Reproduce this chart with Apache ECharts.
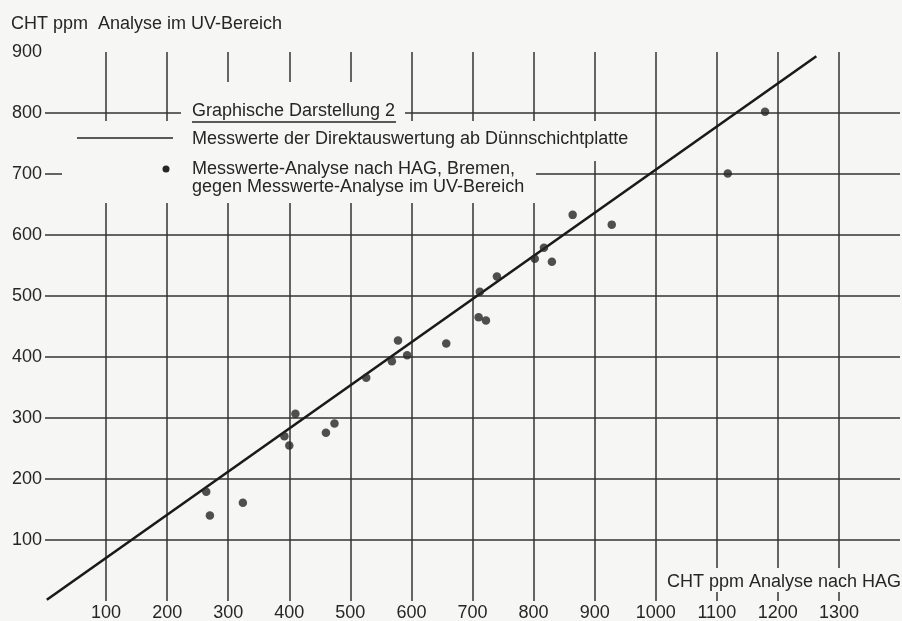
<!DOCTYPE html>
<html style="height: 100%">
  <head>
    <meta charset="utf-8" />
  </head>
  <body style="height: 100%; margin: 0; background: #f6f6f4">
    <div id="container" style="width: 902px; height: 621px"></div>
    <script
      type="text/javascript"
      src="https://cdn.jsdelivr.net/npm/echarts@6/dist/echarts.min.js"
    ></script>
    <script type="text/javascript">
      var dom = document.getElementById('container');
      var myChart = echarts.init(dom);
      var option;

      // Messwerte: x = HAG Bremen, y = Analyse im UV-Bereich (ppm)
      var hagValues = [264, 270, 324, 392, 400, 410, 460, 474, 526, 568, 578, 593, 657,
        710, 712, 722, 740, 802, 817, 830, 864, 928, 1118, 1179];
      var uvValues = [179, 140, 161, 270, 255, 307, 276, 291, 366, 393, 427, 403, 422,
        465, 507, 460, 532, 561, 579, 556, 633, 617, 701, 802];
      // Direktauswertung ab Duennschichtplatte (Gerade)
      var lineX = [3, 1263];
      var lineY = [2, 893];
      var xTickLabels = [100, 200, 300, 400, 500, 600, 700, 800, 900, 1000, 1100, 1200, 1300];
      var yTickLabels = [100, 200, 300, 400, 500, 600, 700, 800, 900];

      var bg = '#f6f6f4';
      var ink = '#262626';
      var gridInk = '#333333';
      var font = 'Liberation Sans, Arial, sans-serif';

      var points = hagValues.map(function (x, i) {
        return [x, uvValues[i]];
      });
      var linePts = lineX.map(function (x, i) {
        return [x, lineY[i]];
      });

      option = {
        backgroundColor: bg,
        animation: false,
        textStyle: { fontFamily: font },
        title: [
          {
            text: 'CHT ppm  Analyse im UV-Bereich',
            left: 11,
            top: 15,
            padding: 0,
            textStyle: { color: ink, fontSize: 18, fontWeight: 'normal', fontFamily: font, lineHeight: 18 }
          },
          {
            text: 'CHT ppm Analyse nach HAG',
            right: 1,
            top: 573,
            padding: 0,
            textStyle: { color: ink, fontSize: 18, fontWeight: 'normal', fontFamily: font, lineHeight: 18 }
          }
        ],
        grid: { left: 45, right: 2, top: 52, bottom: 20, containLabel: false, outerBoundsMode: 'none' },
        xAxis: {
          type: 'value',
          min: 0,
          max: 1400,
          interval: 100,
          axisLine: { show: false },
          axisTick: { show: false },
          axisLabel: {
            margin: 3,
            color: ink,
            fontSize: 18,
            fontFamily: font,
            formatter: function (v) {
              return xTickLabels.indexOf(v) >= 0 ? String(v) : '';
            }
          },
          splitLine: {
            show: true,
            showMinLine: false,
            showMaxLine: false,
            lineStyle: { color: gridInk, width: 1.5 }
          }
        },
        yAxis: {
          type: 'value',
          min: 0,
          max: 900,
          interval: 100,
          axisLine: { show: false },
          axisTick: { show: false },
          axisLabel: {
            margin: 3,
            color: ink,
            fontSize: 18,
            fontFamily: font,
            verticalAlign: 'middle',
            padding: [0, 0, 10, 0],
            formatter: function (v) {
              return yTickLabels.indexOf(v) >= 0 ? String(v) : '';
            }
          },
          splitLine: {
            show: true,
            showMinLine: false,
            showMaxLine: false,
            lineStyle: { color: gridInk, width: 1.5 }
          }
        },
        graphic: [
          // Papier-Aussparungen fuer die Legende und die Achsenbeschriftung
          { type: 'rect', z: 1, silent: true, shape: { x: 181, y: 82, width: 224, height: 40 }, style: { fill: bg } },
          { type: 'rect', z: 1, silent: true, shape: { x: 62, y: 121, width: 578, height: 40 }, style: { fill: bg } },
          { type: 'rect', z: 1, silent: true, shape: { x: 62, y: 160, width: 474, height: 43 }, style: { fill: bg } },
          { type: 'rect', z: 1, silent: true, shape: { x: 660, y: 568, width: 242, height: 24 }, style: { fill: bg } },
          // Legende
          { type: 'text', z: 5, x: 192, y: 111, style: { text: 'Graphische Darstellung 2', font: '18px ' + font, fill: ink, verticalAlign: 'middle' } },
          { type: 'line', z: 5, shape: { x1: 192, y1: 122, x2: 396, y2: 122 }, style: { stroke: ink, lineWidth: 1.5 } },
          { type: 'line', z: 5, shape: { x1: 77, y1: 138, x2: 173, y2: 138 }, style: { stroke: ink, lineWidth: 1.5 } },
          { type: 'text', z: 5, x: 192, y: 139, style: { text: 'Messwerte der Direktauswertung ab Dünnschichtplatte', font: '18px ' + font, fill: ink, verticalAlign: 'middle' } },
          { type: 'circle', z: 5, shape: { cx: 166, cy: 169, r: 3.5 }, style: { fill: '#262626' } },
          { type: 'text', z: 5, x: 192, y: 169, style: { text: 'Messwerte-Analyse nach HAG, Bremen,', font: '18px ' + font, fill: ink, verticalAlign: 'middle' } },
          { type: 'text', z: 5, x: 192, y: 187, style: { text: 'gegen Messwerte-Analyse im UV-Bereich', font: '18px ' + font, fill: ink, verticalAlign: 'middle' } }
        ],
        series: [
          {
            name: 'Messwerte der Direktauswertung ab Dünnschichtplatte',
            type: 'line',
            data: linePts,
            symbol: 'none',
            lineStyle: { color: '#1a1a1a', width: 2.6 },
            z: 3
          },
          {
            name: 'Messwerte-Analyse nach HAG, Bremen, gegen Messwerte-Analyse im UV-Bereich',
            type: 'scatter',
            data: points,
            symbolSize: 8.5,
            itemStyle: { color: '#262626' },
            z: 4
          }
        ]
      };

      myChart.setOption(option);
    </script>
  </body>
</html>
